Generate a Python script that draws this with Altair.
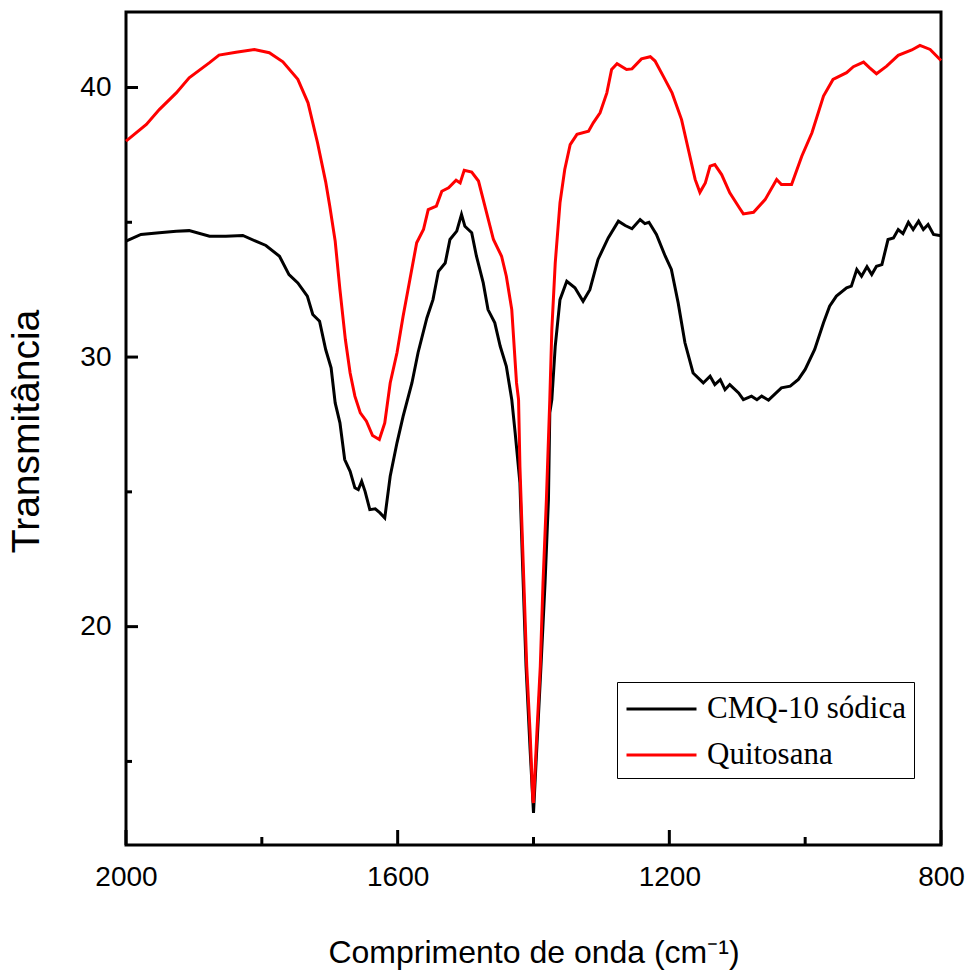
import altair as alt
import pandas as pd

# ---- data ----
wn_quitosana = [2000, 1970, 1951, 1926, 1907, 1877, 1863, 1838, 1811, 1789, 1769, 1747, 1732, 1718,
                1706, 1700, 1692, 1685, 1677, 1670, 1663, 1655, 1646, 1637, 1627, 1619, 1611, 1601,
                1592, 1582, 1572, 1562, 1555, 1543, 1535, 1525, 1514, 1508, 1502, 1491, 1481, 1474,
                1459, 1447, 1440, 1432, 1425, 1422, 1420, 1415, 1410, 1405, 1401, 1400, 1395, 1390,
                1386, 1381, 1376, 1373, 1368, 1361, 1354, 1346, 1336, 1319, 1312, 1302, 1292, 1285,
                1277, 1263, 1255, 1241, 1228, 1221, 1209, 1196, 1182, 1172, 1162, 1155, 1147, 1140,
                1133, 1123, 1111, 1096, 1091, 1076, 1059, 1042, 1035, 1020, 1005, 990, 973, 959,
                939, 929, 914, 905, 895, 880, 863, 843, 831, 816, 800]
t_quitosana = [38.01, 38.63, 39.18, 39.80, 40.36, 40.92, 41.20, 41.31, 41.41, 41.29, 40.95, 40.30, 39.43, 37.95,
               36.50, 35.60, 34.30, 32.50, 30.65, 29.41, 28.55, 27.93, 27.62, 27.09, 26.94, 27.56, 29.04, 30.16,
               31.51, 32.88, 34.24, 34.73, 35.47, 35.60, 36.15, 36.28, 36.56, 36.46, 36.93, 36.86, 36.53, 35.84,
               34.36, 33.74, 33.00, 31.76, 29.04, 28.42, 25.95, 22.24, 18.53, 16.06, 13.58, 13.46, 16.06, 18.53,
               21.62, 24.71, 28.42, 31.02, 33.49, 35.72, 36.96, 37.88, 38.26, 38.38, 38.69, 39.06, 39.80, 40.67,
               40.88, 40.67, 40.69, 41.06, 41.14, 40.98, 40.42, 39.80, 38.81, 37.70, 36.59, 36.11, 36.46, 37.08,
               37.14, 36.77, 36.09, 35.50, 35.31, 35.37, 35.84, 36.59, 36.40, 36.40, 37.45, 38.32, 39.68, 40.30,
               40.55, 40.77, 40.94, 40.73, 40.51, 40.79, 41.19, 41.39, 41.56, 41.41, 41.00]

wn_cmq = [2000, 1978, 1951, 1926, 1907, 1877, 1853, 1828, 1809, 1794, 1774, 1760, 1747, 1733, 1725,
          1715, 1706, 1698, 1692, 1685, 1678, 1670, 1663, 1658, 1653, 1648, 1641, 1633, 1626, 1619,
          1611, 1601, 1592, 1579, 1570, 1557, 1548, 1540, 1530, 1523, 1513, 1506, 1501, 1491, 1484,
          1474, 1467, 1457, 1449, 1440, 1432, 1427, 1420, 1416, 1411, 1405, 1400, 1394, 1389, 1383,
          1378, 1376, 1373, 1368, 1361, 1351, 1339, 1327, 1317, 1305, 1290, 1275, 1265, 1255, 1243,
          1236, 1230, 1219, 1206, 1197, 1187, 1177, 1165, 1150, 1140, 1133, 1125, 1118, 1111, 1098,
          1091, 1079, 1071, 1064, 1054, 1035, 1022, 1010, 1000, 986, 973, 964, 954, 939, 932, 924,
          917, 909, 902, 895, 887, 878, 870, 863, 856, 848, 841, 833, 826, 819, 811, 800]
t_cmq = [34.30, 34.55, 34.61, 34.67, 34.69, 34.48, 34.48, 34.51, 34.30, 34.14, 33.74, 33.06, 32.75, 32.26, 31.58,
         31.33, 30.28, 29.60, 28.30, 27.56, 26.20, 25.76, 25.15, 25.08, 25.39, 25.02, 24.34, 24.37, 24.22, 24.03,
         25.58, 26.82, 27.80, 29.04, 30.16, 31.45, 32.13, 33.18, 33.49, 34.36, 34.67, 35.29, 34.85, 34.61, 33.74,
         32.75, 31.76, 31.27, 30.40, 29.66, 28.42, 27.19, 25.33, 22.24, 18.53, 15.44, 13.09, 16.06, 18.53, 21.62,
         24.71, 27.93, 28.42, 30.40, 32.13, 32.81, 32.57, 32.07, 32.50, 33.62, 34.42, 35.04, 34.88, 34.76, 35.10,
         34.95, 35.00, 34.55, 33.74, 33.25, 32.01, 30.53, 29.41, 29.04, 29.29, 28.98, 29.16, 28.79, 28.98, 28.67,
         28.42, 28.55, 28.42, 28.55, 28.40, 28.86, 28.92, 29.17, 29.54, 30.28, 31.27, 31.89, 32.26, 32.57, 32.63, 33.25,
         33.00, 33.35, 33.06, 33.37, 33.43, 34.36, 34.42, 34.73, 34.58, 35.00, 34.73, 35.04, 34.73, 34.92, 34.55, 34.50]

series = ["CMQ-10 sódica", "Quitosana"]
colors = ["#000000", "#ff0000"]

x_major = [2000, 1600, 1200, 800]
x_minor = [1800, 1400, 1000]
y_major = [20, 30, 40]
y_minor = [15, 25, 35]

df = pd.concat([
    pd.DataFrame({"wn": wn_cmq, "t": t_cmq, "serie": series[0]}),
    pd.DataFrame({"wn": wn_quitosana, "t": t_quitosana, "serie": series[1]}),
], ignore_index=True)

W, H = 815, 833
xs = alt.Scale(domain=[800, 2000], reverse=True, nice=False, zero=False)
ys = alt.Scale(domain=[11.9, 42.8], nice=False, zero=False)

X_TITLE = "Comprimento de onda (cm⁻¹)"
Y_TITLE = "Transmitância"
SANS = "Liberation Sans, Arial, sans-serif"

x_axis = alt.Axis(values=x_major, format="d", title=X_TITLE,
                  ticks=False, tickSize=0, domain=False, grid=False,
                  labelFont=SANS, labelFontSize=28, labelColor="black",
                  labelPadding=18, labelFlush=False, labelOverlap=False,
                  titleFont=SANS, titleFontSize=32, titleFontWeight="normal",
                  titleColor="black", titleY=117, titleBaseline="alphabetic")
y_axis = alt.Axis(values=y_major, format="d", title=Y_TITLE,
                  ticks=False, tickSize=0, domain=False, grid=False,
                  labelFont=SANS, labelFontSize=28, labelColor="black",
                  labelPadding=15, labelFlush=False,
                  titleFont=SANS, titleFontSize=39, titleFontWeight="normal",
                  titleColor="black", titleX=-100, titleY=419, titleBaseline="middle")

legend = alt.Legend(orient="none", legendX=491, legendY=670, title=None,
                    symbolType="M-1,0H3", symbolSize=1225, symbolStrokeWidth=3,
                    labelFont="Liberation Serif", labelFontSize=31, labelColor="black",
                    labelOffset=44, labelLimit=400, padding=8, rowPadding=12,
                    strokeColor="black", fillColor="white")
color = alt.Color("serie:N", scale=alt.Scale(domain=series, range=colors), legend=legend)

base = alt.Chart(df)
black_line = base.transform_filter(alt.datum.serie == series[0]).mark_line(strokeWidth=3).encode(
    x=alt.X("wn:Q", scale=xs, axis=x_axis, title=X_TITLE),
    y=alt.Y("t:Q", scale=ys, axis=y_axis, title=Y_TITLE),
    color=color,
)
red_line = base.transform_filter(alt.datum.serie == series[1]).mark_line(strokeWidth=3).encode(
    x=alt.X("wn:Q", scale=xs, axis=x_axis, title=X_TITLE),
    y=alt.Y("t:Q", scale=ys, axis=y_axis, title=Y_TITLE),
    color=color,
)

tx_major = alt.Chart(pd.DataFrame({"v": x_major})).mark_rule(color="black", strokeWidth=3).encode(
    x=alt.X("v:Q", scale=xs, axis=x_axis, title=X_TITLE), y=alt.value(H), y2=alt.value(H - 15))
tx_minor = alt.Chart(pd.DataFrame({"v": x_minor})).mark_rule(color="black", strokeWidth=3).encode(
    x=alt.X("v:Q", scale=xs, axis=x_axis, title=X_TITLE), y=alt.value(H), y2=alt.value(H - 8))
ty_major = alt.Chart(pd.DataFrame({"v": y_major})).mark_rule(color="black", strokeWidth=3).encode(
    y=alt.Y("v:Q", scale=ys, axis=y_axis, title=Y_TITLE), x=alt.value(0), x2=alt.value(12))
ty_minor = alt.Chart(pd.DataFrame({"v": y_minor})).mark_rule(color="black", strokeWidth=3).encode(
    y=alt.Y("v:Q", scale=ys, axis=y_axis, title=Y_TITLE), x=alt.value(0), x2=alt.value(6))

chart = alt.layer(black_line, red_line, tx_major, tx_minor, ty_major, ty_minor).properties(
    width=W, height=H,
    padding={"left": 126, "top": 12, "right": 27, "bottom": 128},
    autosize=alt.AutoSizeParams(type="none"),
    background="white",
).configure_view(stroke="black", strokeWidth=3)

chart.save("out.html", embed_options={"renderer": "svg", "actions": False})
